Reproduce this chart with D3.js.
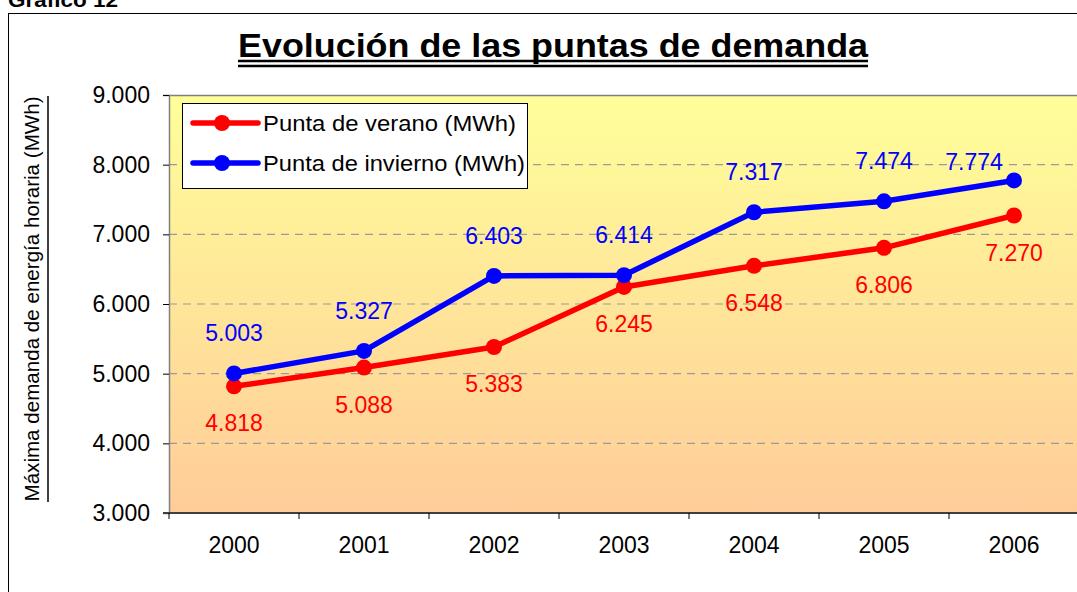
<!DOCTYPE html>
<html>
<head>
<meta charset="utf-8">
<script src="https://cdn.jsdelivr.net/npm/d3@7"></script>
<style>
  body { margin: 0; background: #fff; }
  svg { display: block; font-family: "Liberation Sans", Arial, sans-serif; }
</style>
</head>
<body>
<svg id="chart" width="1077" height="592"></svg>
<script>
// données
const years = ['2000', '2001', '2002', '2003', '2004', '2005', '2006'];
const verano = [4818, 5088, 5383, 6245, 6548, 6806, 7270];
const invierno = [5003, 5327, 6403, 6414, 7317, 7474, 7774];
const yTicks = [3000, 4000, 5000, 6000, 7000, 8000, 9000];
const seriesNames = ['Punta de verano (MWh)', 'Punta de invierno (MWh)'];

const svg = d3.select('#chart');
const fmt = d => d3.format(',')(d).replace(/,/g, '.');

const plot = { left: 169, right: 1079, top: 95, bottom: 513 };

const x = d3.scaleBand().domain(years).range([plot.left, plot.right]);
const y = d3.scaleLinear().domain([3000, 9000]).range([plot.bottom, plot.top]);

// cadre extérieur
svg.append('rect')
    .attr('x', 8.5).attr('y', 13.5)
    .attr('width', 1100).attr('height', 600)
    .attr('fill', 'none').attr('stroke', '#000');

svg.append('text')
    .attr('x', 8).attr('y', 7)
    .attr('font-weight', 'bold').attr('font-size', 21)
    .attr('textLength', 110).attr('lengthAdjust', 'spacingAndGlyphs')
    .text('Gráfico 12');

// titre souligné double
svg.append('text')
    .attr('x', 553).attr('y', 57)
    .attr('text-anchor', 'middle')
    .attr('font-weight', 'bold').attr('font-size', 34)
    .attr('textLength', 630).attr('lengthAdjust', 'spacingAndGlyphs')
    .text('Evolución de las puntas de demanda');
[61, 66].forEach(yy => {
    svg.append('line')
        .attr('x1', 238).attr('x2', 868)
        .attr('y1', yy).attr('y2', yy)
        .attr('stroke', '#000').attr('stroke-width', 2.5);
});

// fond dégradé
const defs = svg.append('defs');
const grad = defs.append('linearGradient')
    .attr('id', 'bg').attr('x1', 0).attr('x2', 0).attr('y1', 0).attr('y2', 1);
grad.append('stop').attr('offset', '0%').attr('stop-color', '#ffff99');
grad.append('stop').attr('offset', '100%').attr('stop-color', '#ffcc99');

svg.append('rect')
    .attr('x', plot.left).attr('y', plot.top)
    .attr('width', plot.right - plot.left).attr('height', plot.bottom - plot.top)
    .attr('fill', 'url(#bg)');

// grille
svg.append('g')
    .selectAll('line')
    .data(yTicks.filter(d => d > 3000 && d < 9000))
    .enter().append('line')
    .attr('x1', plot.left).attr('x2', plot.right)
    .attr('y1', d => y(d)).attr('y2', d => y(d))
    .attr('stroke', '#9a9a9a').attr('stroke-width', 1.2)
    .attr('stroke-dasharray', '8,6');

svg.append('line')
    .attr('x1', plot.left).attr('x2', plot.right)
    .attr('y1', plot.top + 0.5).attr('y2', plot.top + 0.5)
    .attr('stroke', '#808080').attr('stroke-width', 1.5);

// axe Y
const yAxis = svg.append('g')
    .attr('transform', `translate(${plot.left},0)`)
    .call(d3.axisLeft(y).tickValues(yTicks).tickSize(6).tickPadding(13).tickFormat(fmt));
yAxis.select('.domain').attr('stroke', '#808080').attr('stroke-width', 1.5);
yAxis.selectAll('.tick line').attr('stroke', '#000');
yAxis.selectAll('text')
    .attr('font-size', 23).attr('fill', '#000')
    .attr('font-family', '"Liberation Sans", Arial, sans-serif');

// axe X
const xAxis = svg.append('g')
    .attr('transform', `translate(0,${plot.bottom})`)
    .call(d3.axisBottom(x).tickSize(0).tickPadding(24));
xAxis.select('.domain').remove();
xAxis.selectAll('text')
    .attr('font-size', 23).attr('fill', '#000')
    .attr('font-family', '"Liberation Sans", Arial, sans-serif');

svg.append('line')
    .attr('x1', plot.left - 6).attr('x2', plot.right)
    .attr('y1', plot.bottom).attr('y2', plot.bottom)
    .attr('stroke', '#404040').attr('stroke-width', 2);

svg.append('g')
    .selectAll('line')
    .data(years)
    .enter().append('line')
    .attr('x1', d => x(d)).attr('x2', d => x(d))
    .attr('y1', plot.bottom).attr('y2', plot.bottom + 6)
    .attr('stroke', '#000');

// titre axe Y
svg.append('text')
    .attr('transform', 'translate(39,299) rotate(-90)')
    .attr('text-anchor', 'middle')
    .attr('font-size', 20)
    .attr('textLength', 405).attr('lengthAdjust', 'spacingAndGlyphs')
    .text('Máxima demanda de energía  horaria (MWh)');
svg.append('line')
    .attr('x1', 48).attr('x2', 48)
    .attr('y1', 96).attr('y2', 502)
    .attr('stroke', '#000').attr('stroke-width', 1.5);

// séries
const cx = d => x(d) + x.bandwidth() / 2;
const series = [
    { name: seriesNames[0], values: verano, color: '#ff0000', dy: 45, legendLen: 253 },
    { name: seriesNames[1], values: invierno, color: '#0000ff', dy: -32, legendLen: 262 }
];

const line = d3.line()
    .x((d, i) => cx(years[i]))
    .y(d => y(d));

series.forEach((s, si) => {
    svg.append('path')
        .datum(s.values)
        .attr('d', line)
        .attr('fill', 'none')
        .attr('stroke', s.color)
        .attr('stroke-width', 5.5)
        .attr('stroke-linejoin', 'round');

    svg.append('g')
        .selectAll('circle')
        .data(s.values)
        .enter().append('circle')
        .attr('cx', (d, i) => cx(years[i]))
        .attr('cy', d => y(d))
        .attr('r', 8)
        .attr('fill', s.color);

    svg.append('g')
        .selectAll('text')
        .data(s.values)
        .enter().append('text')
        .attr('x', (d, i) => cx(years[i]))
        .attr('y', d => y(d) + s.dy)
        .attr('text-anchor', 'middle')
        .attr('font-size', 23)
        .attr('fill', s.color)
        .text(fmt)
        // dernière étiquette d'hiver décalée comme dans Excel
        .filter((d, i) => si === 1 && i === years.length - 1)
        .attr('x', d => cx(years[years.length - 1]) - 40)
        .attr('y', d => y(d) - 10);
});

// légende
const legend = svg.append('g');
legend.append('rect')
    .attr('x', 182.5).attr('y', 103.5)
    .attr('width', 345).attr('height', 85)
    .attr('fill', '#fff').attr('stroke', '#000').attr('stroke-width', 1);

series.forEach((s, i) => {
    const ly = 123 + i * 40;
    legend.append('line')
        .attr('x1', 193).attr('x2', 258)
        .attr('y1', ly).attr('y2', ly)
        .attr('stroke', s.color).attr('stroke-width', 5.5)
        .attr('stroke-linecap', 'round');
    legend.append('circle')
        .attr('cx', 222).attr('cy', ly).attr('r', 8).attr('fill', s.color);
    legend.append('text')
        .attr('x', 263).attr('y', ly + 8)
        .attr('font-size', 22)
        .attr('textLength', s.legendLen).attr('lengthAdjust', 'spacingAndGlyphs')
        .text(s.name);
});
</script>
</body>
</html>
